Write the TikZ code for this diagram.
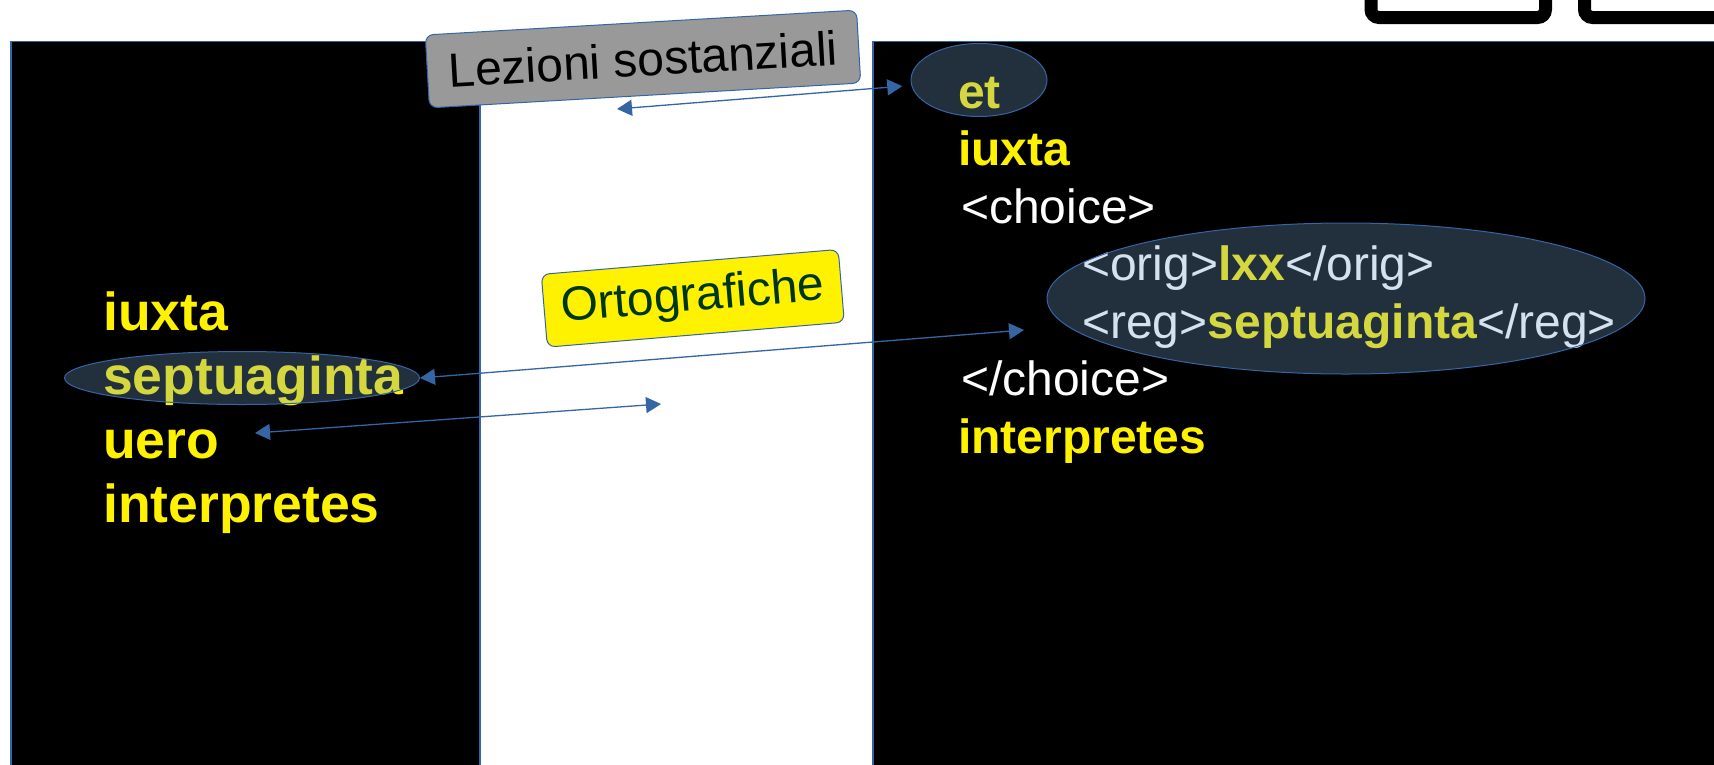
\documentclass[tikz,border=0pt]{standalone}
\usepackage{fontspec}
\setmainfont{Liberation Sans}
\usetikzlibrary{arrows.meta,shapes.geometric}

\definecolor{lineblue}{HTML}{3465A4}
\definecolor{hiblue}{HTML}{729FCF}
\definecolor{boxgray}{HTML}{999999}
\definecolor{boxyellow}{HTML}{FFF200}
\definecolor{darkgreen}{HTML}{003618}

\newcommand{\yw}[1]{\textcolor{yellow}{\bfseries #1}}

\tikzset{
    panel/.style={fill=black,draw=lineblue,line width=1.3pt},
    lefttext/.style={anchor=base west,inner sep=0pt,text=yellow,
        font=\fontsize{53.5}{62}\selectfont\bfseries},
    tagtext/.style={anchor=base west,inner sep=0pt,text=white,
        font=\fontsize{48}{57}\selectfont},
    wordtext/.style={tagtext,text=yellow,font=\fontsize{48}{57}\selectfont\bfseries},
    hilite/.style={ellipse,draw=lineblue,line width=1pt,fill=hiblue,
        fill opacity=0.3,inner sep=0pt},
    labelbox/.style={rectangle,rounded corners=8pt,draw=lineblue,line width=1pt,
        inner sep=0pt,minimum height=73pt,font=\fontsize{48}{57}\selectfont},
    link/.style={lineblue,line width=1.3pt,
        {Triangle[length=15pt,width=16pt]}-{Triangle[length=15pt,width=16pt]}}
}

\begin{document}
\begin{tikzpicture}[x=1pt,y=-1pt]
        \useasboundingbox (0,0) rectangle (1714,764);
        \clip (0,0) rectangle (1714,764);
        \fill[white] (0,0) rectangle (1714,764);

        % draw the two black panels
        \draw[panel] (11,41.5) rectangle (480,790);
        \draw[panel] (873,41.5) rectangle (1740,790);

        % the frames cut off at the top right
        \draw[line width=13pt,rounded corners=8pt]
            (1371,-30) -- (1371,17.5) -- (1545.5,17.5) -- (1545.5,-30);
        \draw[line width=13pt,rounded corners=8pt]
            (1584.5,-30) -- (1584.5,17.5) -- (1750,17.5);

        % the words on the left
        \foreach \w [count=\i] in {iuxta,septuaginta,uero,interpretes}
                \node[lefttext] (left\i) at (103,266+64*\i) {\w};

        % the encoded text on the right
        \node[wordtext] (et) at (958,108) {et};
        \node[wordtext] (iuxta) at (958,165.5) {iuxta};
        \node[tagtext] (choice) at (961,223) {<choice>};
        \node[tagtext] (orig) at (1082,280.5) {<orig>\yw{lxx}</orig>};
        \node[tagtext] (reg) at (1082,338) {<reg>\yw{septuaginta}</reg>};
        \node[tagtext] (endchoice) at (961,395.5) {</choice>};
        \node[wordtext] (interp) at (958,453) {interpretes};

        % highlight ellipses over the words
        \node[hilite,minimum width=355pt,minimum height=53pt] (sepL) at (242,378) {};
        \node[hilite,minimum width=136pt,minimum height=73pt] (etEll) at (979,80) {};
        \node[hilite,minimum width=598pt,minimum height=151pt] (regEll) at (1346,298.5) {};

        % the two labels
        \node[labelbox,fill=boxgray,minimum width=432pt,rotate=3.3]
            (lez) at (643,59) {Lezioni sostanziali};
        \node[labelbox,fill=boxyellow,text=darkgreen,minimum width=298pt,rotate=4.8]
            (orto) at (692.8,298.3) {Ortografiche};

        % draw the arrows
        \coordinate (lezEnd) at (617,109);
        \coordinate (ortoEnd) at (1024,330);
        \coordinate (ueroEnd) at (255,433);
        \coordinate (midEnd) at (661,404);
        \draw[link,shorten >=9pt] (lezEnd) -- (etEll);
        \draw[link] (sepL.east) -- (ortoEnd);
        \draw[link] (ueroEnd) -- (midEnd);
\end{tikzpicture}
\end{document}
